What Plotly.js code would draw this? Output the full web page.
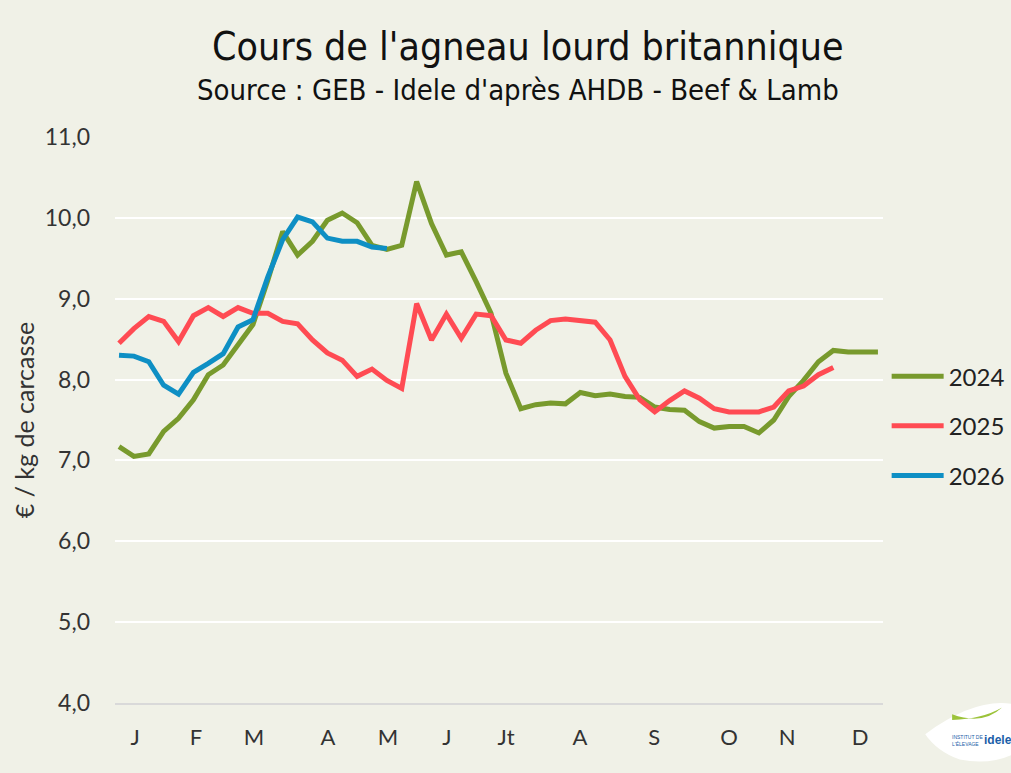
<!DOCTYPE html>
<html>
<head>
<meta charset="utf-8">
<script src="https://cdn.plot.ly/plotly-3.0.1.min.js"></script>
<style>
html,body{margin:0;padding:0;background:#f0f1e7;}
#chart{width:1011px;height:773px;}
</style>
</head>
<body>
<div id="chart"></div>
<script>
// Weeks 1..52
const weeks = Array.from({length: 52}, (_, i) => i + 1);

const prix2024 = [7.17, 7.05, 7.08, 7.36, 7.52, 7.75, 8.06, 8.18, 8.43, 8.68,
                  9.23, 9.83, 9.54, 9.71, 9.97, 10.06, 9.94, 9.66, 9.61, 9.66,
                  10.45, 9.93, 9.54, 9.58, 9.21, 8.82, 8.08, 7.64, 7.69, 7.71,
                  7.70, 7.84, 7.80, 7.82, 7.79, 7.78, 7.66, 7.63, 7.62, 7.48,
                  7.40, 7.42, 7.42, 7.34, 7.50, 7.79, 7.99, 8.22, 8.36, 8.34,
                  8.34, 8.34];

const prix2025 = [8.45, 8.63, 8.78, 8.72, 8.47, 8.79, 8.89, 8.78, 8.89, 8.82,
                  8.82, 8.72, 8.69, 8.49, 8.33, 8.24, 8.04, 8.13, 7.99, 7.89,
                  8.94, 8.49, 8.81, 8.51, 8.81, 8.79, 8.49, 8.45, 8.61, 8.73,
                  8.75, 8.73, 8.71, 8.49, 8.04, 7.75, 7.60, 7.74, 7.86, 7.77,
                  7.64, 7.60, 7.60, 7.60, 7.66, 7.86, 7.92, 8.06, 8.15];

const prix2026 = [8.30, 8.29, 8.22, 7.93, 7.82, 8.09, 8.20, 8.32, 8.65, 8.74,
                  9.27, 9.73, 10.01, 9.95, 9.75, 9.71, 9.71, 9.64, 9.62];

const monthLabels = ['J', 'F', 'M', 'A', 'M', 'J', 'Jt', 'A', 'S', 'O', 'N', 'D'];
const monthWeeks = [2.08, 6.17, 10.07, 15.04, 19.07, 23.04, 27.01, 31.98, 36.96, 42.0, 45.9, 50.8];

const yTicks = [4, 5, 6, 7, 8, 9, 10, 11];

const series = [
  {name: '2024', y: prix2024, color: '#789a2d'},
  {name: '2025', y: prix2025, color: '#ff4b53'},
  {name: '2026', y: prix2026, color: '#0e8fc4'}
];

const traces = series.map((s, i) => ({
  type: 'scatter',
  mode: 'lines',
  name: s.name,
  x: weeks.slice(0, s.y.length),
  y: s.y,
  legendgroup: 'g' + i,
  line: {color: s.color, width: 5, shape: 'linear'},
  hoverinfo: 'x+y'
}));

const layout = {
  width: 1011,
  height: 773,
  paper_bgcolor: '#f0f1e7',
  plot_bgcolor: '#f0f1e7',
  separators: ',.',
  margin: {l: 115, r: 128, t: 137, b: 70, autoexpand: false},
  showlegend: true,
  legend: {
    xref: 'container', yref: 'container',
    x: 0.877, xanchor: 'left',
    y: 0.542, yanchor: 'top',
    font: {family: 'Lato, sans-serif', size: 24, color: '#222'},
    itemwidth: 52,
    tracegroupgap: 15.5,
    traceorder: 'grouped',
    bgcolor: 'rgba(0,0,0,0)'
  },
  xaxis: {
    range: [0.73, 52.34],
    tickmode: 'array',
    tickvals: monthWeeks,
    ticktext: monthLabels,
    showgrid: false,
    zeroline: false,
    showline: true,
    linecolor: '#d9d9d9',
    linewidth: 2,
    ticks: '',
    ticklabelstandoff: 14,
    tickfont: {family: 'Lato, sans-serif', size: 22, color: '#333'},
    fixedrange: true
  },
  yaxis: {
    range: [4, 11],
    tickmode: 'array',
    tickvals: yTicks,
    tickformat: '.1f',
    showgrid: true,
    gridcolor: '#ffffff',
    gridwidth: 2,
    zeroline: false,
    showline: false,
    ticks: '',
    ticklabelstandoff: 24,
    tickfont: {family: 'Lato, sans-serif', size: 23, color: '#333'},
    title: {text: '€ / kg de carcasse', font: {family: 'Lato, sans-serif', size: 25, color: '#333'}, standoff: 3},
    fixedrange: true
  },
  annotations: [
    {text: "Cours de l'agneau lourd britannique", xref: 'paper', yref: 'paper',
     x: 0.5, y: 1, xanchor: 'center', yanchor: 'bottom', showarrow: false,
     xshift: 29, yshift: 66,
     font: {family: '"Liberation Sans Narrow", "DejaVu Sans Condensed", sans-serif', size: 39, color: '#111'}},
    {text: "Source : GEB - Idele d'après AHDB - Beef & Lamb", xref: 'paper', yref: 'paper',
     x: 0.5, y: 1, xanchor: 'center', yanchor: 'bottom', showarrow: false,
     xshift: 19, yshift: 28,
     font: {family: '"Liberation Sans Narrow", "DejaVu Sans Condensed", sans-serif', size: 29, color: '#111'}},
    {text: '<b>idele</b>', xref: 'paper', yref: 'paper', x: 1, y: 0, xanchor: 'left', yanchor: 'middle',
     xshift: 99, yshift: -37, showarrow: false,
     font: {family: 'Liberation Sans Narrow, sans-serif', size: 12, color: '#1b5ea8'}},
    {text: 'INSTITUT DE<br>L\'ÉLEVAGE', xref: 'paper', yref: 'paper', x: 1, y: 0, xanchor: 'left', yanchor: 'middle',
     xshift: 67, yshift: -37, showarrow: false, align: 'left',
     font: {family: 'Liberation Sans Narrow, sans-serif', size: 5, color: '#1b5ea8'}}
  ],
  shapes: [
    {type: 'path', xref: 'paper', yref: 'paper', layer: 'below',
     path: 'M 1.055,-0.055 Q 1.12,0.01 1.17,-0.002 L 1.17,-0.09 Q 1.14,-0.11 1.10,-0.10 Q 1.07,-0.085 1.055,-0.055 Z',
     fillcolor: '#ffffff', line: {width: 0}},
    {type: 'path', xref: 'paper', yref: 'paper',
     path: 'M 1.09,-0.02 Q 1.13,-0.04 1.155,-0.008 Q 1.13,-0.028 1.09,-0.03 Z',
     fillcolor: '#9cc33a', line: {width: 0}}
  ]
};

Plotly.newPlot('chart', traces, layout, {displayModeBar: false, staticPlot: true});
</script>
</body>
</html>
